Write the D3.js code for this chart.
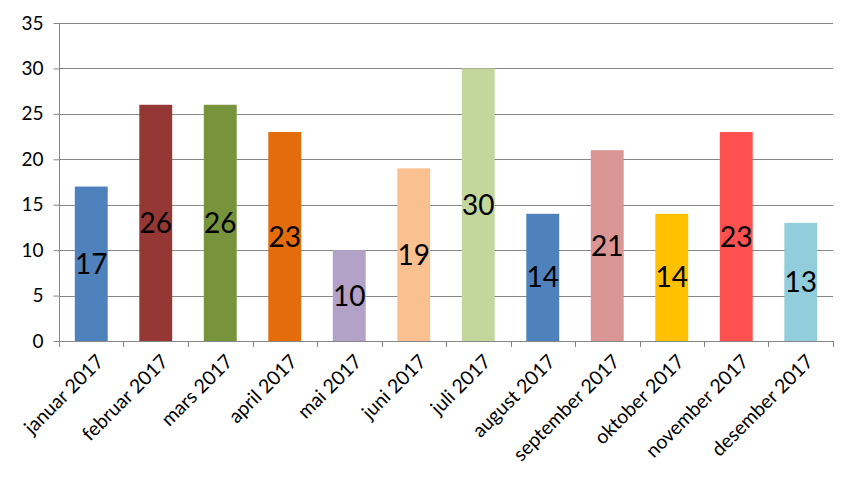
<!DOCTYPE html>
<html><head><meta charset="utf-8">
<script src="https://cdn.jsdelivr.net/npm/d3@7"></script>
<style>body{margin:0;background:#fff}svg{display:block}</style>
</head><body>
<svg id="c" width="856" height="484"></svg>
<script>
const categories = ["januar 2017","februar 2017","mars 2017","april 2017","mai 2017","juni 2017","juli 2017","august 2017","september 2017","oktober 2017","november 2017","desember 2017"];
const values = [17,26,26,23,10,19,30,14,21,14,23,13];
const colors = ["#4F81BD","#953735","#77933C","#E46C0A","#B2A2C7","#FAC090","#C3D69B","#4F81BD","#D99694","#FFC000","#FF5050","#92CDDC"];
const yTicks = [0,5,10,15,20,25,30,35];

const svg = d3.select("#c");
const mLeft = 59, mRight = 833, mTop = 23, mBottom = 341;
const font = "Lato, 'Open Sans', sans-serif";

const x = d3.scaleBand().domain(categories).range([mLeft, mRight]).paddingInner(0.49).paddingOuter(0.245);
const y = d3.scaleLinear().domain([0, 35]).range([mBottom, mTop]);
const xb = d3.scaleLinear().domain([0, categories.length]).range([mLeft, mRight]);

// gridlines
svg.append("g").selectAll("line").data(yTicks.filter(d => d > 0)).join("line")
  .attr("x1", mLeft).attr("x2", mRight)
  .attr("y1", d => Math.round(y(d)) + 0.5).attr("y2", d => Math.round(y(d)) + 0.5)
  .attr("stroke", "#868686").attr("stroke-width", 1);

// y axis
const ya = svg.append("g").attr("transform", `translate(${mLeft + 0.5},0)`)
  .call(d3.axisLeft(y).tickValues(yTicks).tickSize(6).tickPadding(10));
ya.select(".domain").attr("stroke", "#868686").attr("d", `M0,${mTop}V${mBottom}`);
ya.selectAll(".tick line").attr("stroke", "#868686");
ya.selectAll(".tick text").attr("font-family", font).attr("font-size", 19).attr("fill", "#000");

// bars
svg.append("g").selectAll("rect").data(values).join("rect")
  .attr("x", (d, i) => x(categories[i])).attr("width", x.bandwidth())
  .attr("y", d => y(d)).attr("height", d => y(0) - y(d))
  .attr("fill", (d, i) => colors[i]);

// value labels
svg.append("g").selectAll("text").data(values).join("text")
  .attr("x", (d, i) => x(categories[i]) + x.bandwidth() / 2)
  .attr("y", d => (y(d) + y(0)) / 2)
  .attr("dy", "0.36em")
  .attr("text-anchor", "middle")
  .attr("font-family", font).attr("font-size", 28).attr("fill", "#000")
  .text(d => d);

// x axis line and ticks
const xa = svg.append("g");
xa.append("line").attr("x1", mLeft).attr("x2", mRight).attr("y1", mBottom + 0.5).attr("y2", mBottom + 0.5)
  .attr("stroke", "#868686");
xa.selectAll("line.t").data(d3.range(categories.length + 1)).join("line").attr("class","t")
  .attr("x1", d => Math.round(xb(d)) + 0.5).attr("x2", d => Math.round(xb(d)) + 0.5)
  .attr("y1", mBottom).attr("y2", mBottom + 6)
  .attr("stroke", "#868686");

// x labels
xa.selectAll("text").data(categories).join("text")
  .attr("transform", d => `translate(${x(d) + x.bandwidth()/2 + 4},${mBottom + 12}) rotate(-45)`)
  .attr("text-anchor", "end").attr("dy", "0.7em")
  .attr("font-family", font).attr("font-size", 19.5).attr("fill", "#000")
  .text(d => d);
</script>
</body></html>
